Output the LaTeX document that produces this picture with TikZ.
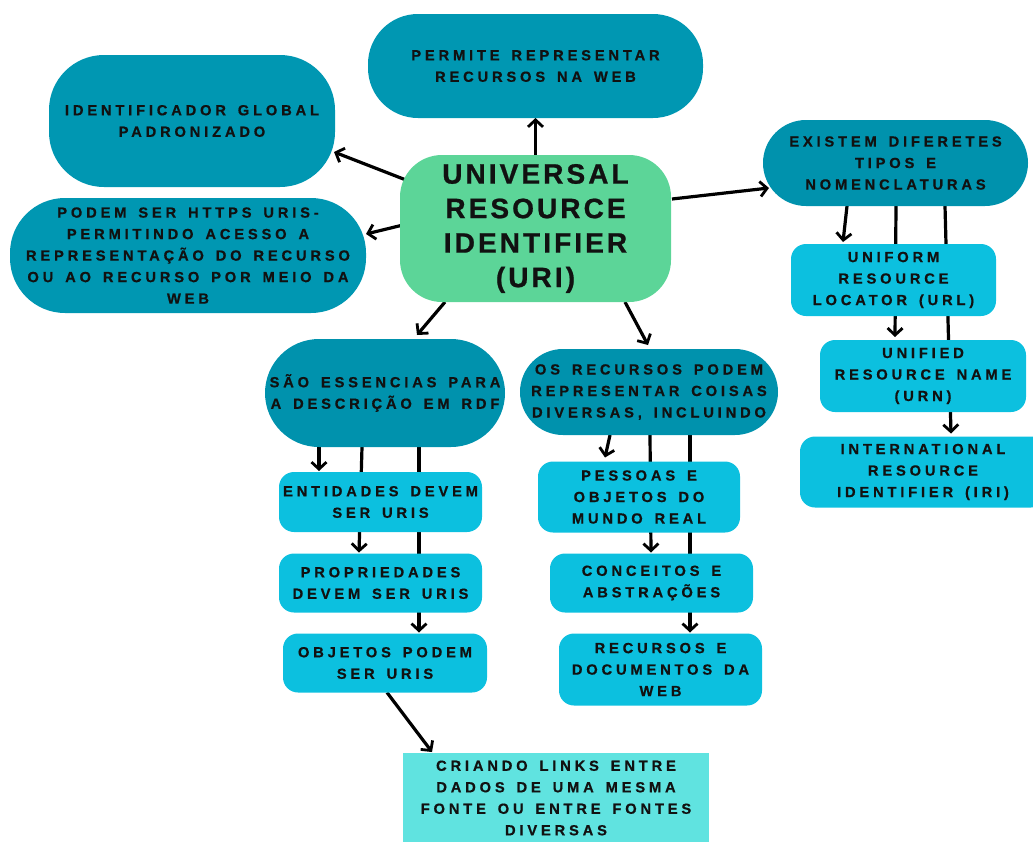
\documentclass[tikz,border=0pt]{standalone}
\usepackage{fontspec}
\setmainfont{Liberation Sans}
\newfontfamily\lblfont{Liberation Sans}[LetterSpace=26,WordSpace=1.5,BoldFeatures={FakeBold=0.6}]
\newfontfamily\bigfont{Liberation Sans}[LetterSpace=11,BoldFeatures={FakeBold=0.8}]
\usetikzlibrary{arrows.meta,calc}
\pgfdeclarelayer{bg}
\pgfsetlayers{bg,main}
\definecolor{darkA}{HTML}{0097B2}
\definecolor{darkB}{HTML}{0092AD}
\definecolor{lightC}{HTML}{0CC0DF}
\definecolor{greenC}{HTML}{5CD598}
\definecolor{aquaC}{HTML}{60E3E0}
\definecolor{inkC}{HTML}{111111}
\begin{document}
\begin{tikzpicture}[x=1pt,y=-1pt,
  every node/.style={inner sep=0pt,outer sep=0pt,align=center,text=inkC},
  small/.style={font=\lblfont\bfseries\fontsize{14.7}{21.5}\selectfont},
  pill/.style={small,fill=darkA,rounded corners=#1},
  pillb/.style={small,fill=darkB,rounded corners=#1},
  lbox/.style={small,fill=lightC,rounded corners=15pt},
  conn/.style={draw=black,line width=3.2pt,-{Straight Barb[length=7pt,width=15pt,line width=2.8pt]}}]
\useasboundingbox (0,0) rectangle (1033,841);
\clip (0,0) rectangle (1033,841);

\node[pill=50pt,minimum width=335pt,minimum height=104pt] (permite) at (535.5,66) {PERMITE REPRESENTAR\\RECURSOS NA WEB};
\node[pill=55pt,minimum width=286pt,minimum height=132pt] (ident) at (192,121) {IDENTIFICADOR GLOBAL\\PADRONIZADO};
\node[pill=55pt,minimum width=356pt,minimum height=115pt] (podem) at (188,255.5) {PODEM SER HTTPS URIS-\\PERMITINDO ACESSO A\\REPRESENTAÇÃO DO RECURSO\\OU AO RECURSO POR MEIO DA\\WEB};
\node[fill=greenC,rounded corners=42pt,minimum width=271pt,minimum height=147pt,font=\bigfont\bfseries\fontsize{28}{34.5}\selectfont] (uri) at (535.5,228.5) {UNIVERSAL\\RESOURCE\\IDENTIFIER\\(URI)};
\node[pillb=43pt,minimum width=265pt,minimum height=86pt] (existem) at (895.5,163) {EXISTEM DIFERETES\\TIPOS E\\NOMENCLATURAS};
\node[lbox,minimum width=205pt,minimum height=72pt] (url) at (893.5,280) {UNIFORM\\RESOURCE\\LOCATOR (URL)};
\node[lbox,minimum width=206pt,minimum height=72pt] (urn) at (923,376) {UNIFIED\\RESOURCE NAME\\(URN)};
\node[lbox,minimum width=246pt,minimum height=71pt] (iri) at (923,472) {INTERNATIONAL\\RESOURCE\\IDENTIFIER (IRI)};
\node[pillb=54pt,minimum width=240pt,minimum height=108pt] (sao) at (385,393) {SÃO ESSENCIAS PARA\\A DESCRIÇÃO EM RDF};
\node[pillb=43pt,minimum width=258pt,minimum height=86pt] (osrec) at (649,392) {OS RECURSOS PODEM\\REPRESENTAR COISAS\\DIVERSAS, INCLUINDO};
\node[lbox,minimum width=203pt,minimum height=60pt] (ent) at (380.5,502) {ENTIDADES DEVEM\\SER URIS};
\node[lbox,minimum width=203pt,minimum height=59pt] (prop) at (380.5,583) {PROPRIEDADES\\DEVEM SER URIS};
\node[lbox,minimum width=204pt,minimum height=59pt] (obj) at (385,663) {OBJETOS PODEM\\SER URIS};
\node[lbox,minimum width=202pt,minimum height=71pt] (pess) at (639,497) {PESSOAS E\\OBJETOS DO\\MUNDO REAL};
\node[lbox,minimum width=203pt,minimum height=59pt] (conc) at (651.5,583) {CONCEITOS E\\ABSTRAÇÕES};
\node[lbox,minimum width=203pt,minimum height=72pt] (recdoc) at (660.5,669.5) {RECURSOS E\\DOCUMENTOS DA\\WEB};
\node[small,fill=aquaC,minimum width=306pt,minimum height=90pt] (criando) at (556,798) {CRIANDO LINKS ENTRE\\DADOS DE UMA MESMA\\FONTE OU ENTRE FONTES\\DIVERSAS};

\begin{pgfonlayer}{bg}
\draw[conn] (uri.north) -- (permite.south);
\draw[conn] ($(uri.north west)+(6,25)$) -- ($(ident.south east)+(-1,-35)$);
\draw[conn] ($(uri.north west)+(3,70)$) -- ($(podem.north east)+(0,36)$);
\draw[conn] ($(uri.south west)+(45,0)$) -- ($(sao.north west)+(152,-4)$);
\draw[conn] ($(uri.south east)+(-46,0)$) -- ($(osrec.north west)+(128,-4)$);
\draw[conn] ($(uri.north east)+(1,44)$) -- ($(existem.south west)+(6,-18)$);
\draw[conn] ($(existem.south west)+(84,0)$) -- ($(url.north west)+(52,-2)$);
\draw[conn] ($(existem.south west)+(133,0)$) -- ($(urn.north west)+(75,-3)$);
\draw[conn] ($(existem.south west)+(182,0)$) -- ($(iri.north west)+(151,-3)$);
\draw[conn] ($(sao.south west)+(54,0)$) -- ($(ent.north west)+(40,-1)$);
\draw[conn] ($(sao.south west)+(97,0)$) -- ($(prop.north west)+(80,-1)$);
\draw[conn] ($(sao.south west)+(154,0)$) -- ($(obj.north west)+(136,-1)$);
\draw[conn] ($(osrec.south west)+(90,0)$) -- ($(pess.north west)+(67,-4)$);
\draw[conn] ($(osrec.south west)+(130,0)$) -- ($(conc.north west)+(101,-1)$);
\draw[conn] ($(osrec.south west)+(170,0)$) -- ($(recdoc.north west)+(131,-1)$);
\draw[conn] ($(obj.south west)+(104,0)$) -- ($(criando.north west)+(29,-1)$);
\end{pgfonlayer}
\end{tikzpicture}
\end{document}
